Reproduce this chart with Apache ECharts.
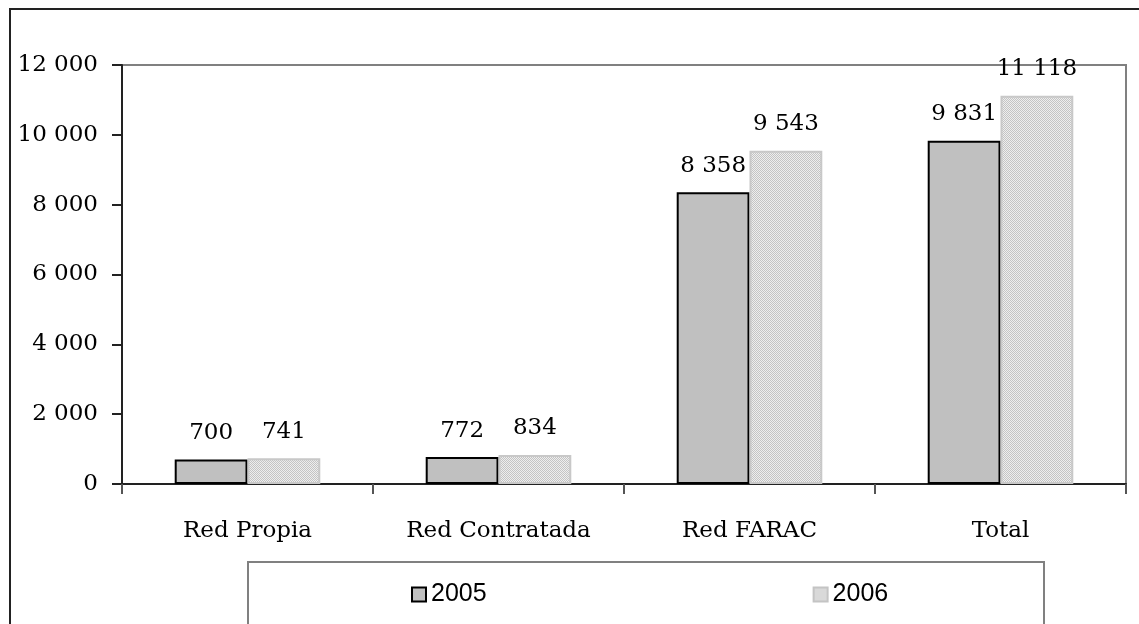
<!DOCTYPE html>
<html>
<head>
<meta charset="utf-8">
<script src="https://cdn.jsdelivr.net/npm/echarts@6/dist/echarts.min.js"></script>
<style>
  html, body { margin: 0; padding: 0; background: #fff; }
  #chart { width: 1139px; height: 624px; }
</style>
</head>
<body>
<div id="chart"></div>
<script>
// Categories and yearly values
const categories = ['Red Propia', 'Red Contratada', 'Red FARAC', 'Total'];
const years = ['2005', '2006'];
const values2005 = [700, 772, 8358, 9831];
const values2006 = [741, 834, 9543, 11118];
const yTicks = { min: 0, max: 12000, interval: 2000 };

// Thousands separated by a space, e.g. 11 118
function fmt(v) {
  return String(Math.round(v)).replace(/\B(?=(\d{3})+(?!\d))/g, ' ');
}

// Fine dotted fill for the 2006 bars
function dotPattern() {
  const c = document.createElement('canvas');
  c.width = 2; c.height = 2;
  const ctx = c.getContext('2d');
  ctx.fillStyle = '#eeeeee';
  ctx.fillRect(0, 0, 2, 2);
  ctx.fillStyle = '#c4c4c4';
  ctx.fillRect(0, 0, 1, 1);
  ctx.fillRect(1, 1, 1, 1);
  return c;
}
const pattern = { image: dotPattern(), repeat: 'repeat' };

const serif = '"DejaVu Serif", "Liberation Serif", serif';
const sans = '"Liberation Sans", Arial, sans-serif';

const chart = echarts.init(document.getElementById('chart'), null, { renderer: 'canvas' });

const labelCfg = {
  show: true,
  position: 'top',
  distance: 15,
  fontFamily: serif,
  fontSize: 23,
  color: '#000',
  formatter: p => fmt(p.value)
};

chart.setOption({
  animation: false,
  backgroundColor: '#fff',
  graphic: [
    {
      type: 'rect',
      shape: { x: 10, y: 9, width: 1140, height: 630 },
      style: { fill: null, stroke: '#222', lineWidth: 2 },
      z: -1
    },
    {
      type: 'rect',
      shape: { x: 248, y: 562, width: 796, height: 70 },
      style: { fill: '#fff', stroke: '#808080', lineWidth: 2 },
      z: 1
    }
  ],
  grid: {
    left: 122, right: 13, top: 65, bottom: 140,
    show: true, borderColor: '#808080', borderWidth: 2, backgroundColor: 'transparent'
  },
  legend: {
    left: 406, top: 577,
    itemGap: 326,
    itemWidth: 14, itemHeight: 14,
    textStyle: { fontFamily: sans, fontSize: 25, color: '#000' },
    data: [
      { name: years[0], icon: 'rect', itemStyle: { color: '#c0c0c0', borderColor: '#000', borderWidth: 2 } },
      { name: years[1], icon: 'rect', itemStyle: { color: pattern, borderColor: '#c4c4c4', borderWidth: 2 } }
    ],
    z: 5
  },
  xAxis: {
    type: 'category',
    data: categories,
    axisLine: { lineStyle: { color: '#222', width: 2 } },
    axisTick: { show: true, length: 10, inside: false, lineStyle: { color: '#555', width: 2 } },
    axisLabel: { margin: 36, fontFamily: serif, fontSize: 23, color: '#000' },
    splitLine: { show: false }
  },
  yAxis: {
    type: 'value',
    min: yTicks.min, max: yTicks.max, interval: yTicks.interval,
    axisLine: { show: true, lineStyle: { color: '#222', width: 2 } },
    axisTick: { show: true, length: 10, lineStyle: { color: '#222', width: 2 } },
    axisLabel: { margin: 24, fontFamily: serif, fontSize: 23, color: '#000', formatter: fmt },
    splitLine: { show: false }
  },
  series: [
    {
      name: years[0],
      type: 'bar',
      data: values2005,
      barGap: '0%',
      barCategoryGap: '42%',
      itemStyle: { color: '#c0c0c0', borderColor: '#000', borderWidth: 2 },
      label: labelCfg
    },
    {
      name: years[1],
      type: 'bar',
      data: values2006,
      barGap: '0%',
      barCategoryGap: '42%',
      itemStyle: { color: pattern, borderColor: '#c8c8c8', borderWidth: 2 },
      label: labelCfg
    }
  ]
});
</script>
</body>
</html>
